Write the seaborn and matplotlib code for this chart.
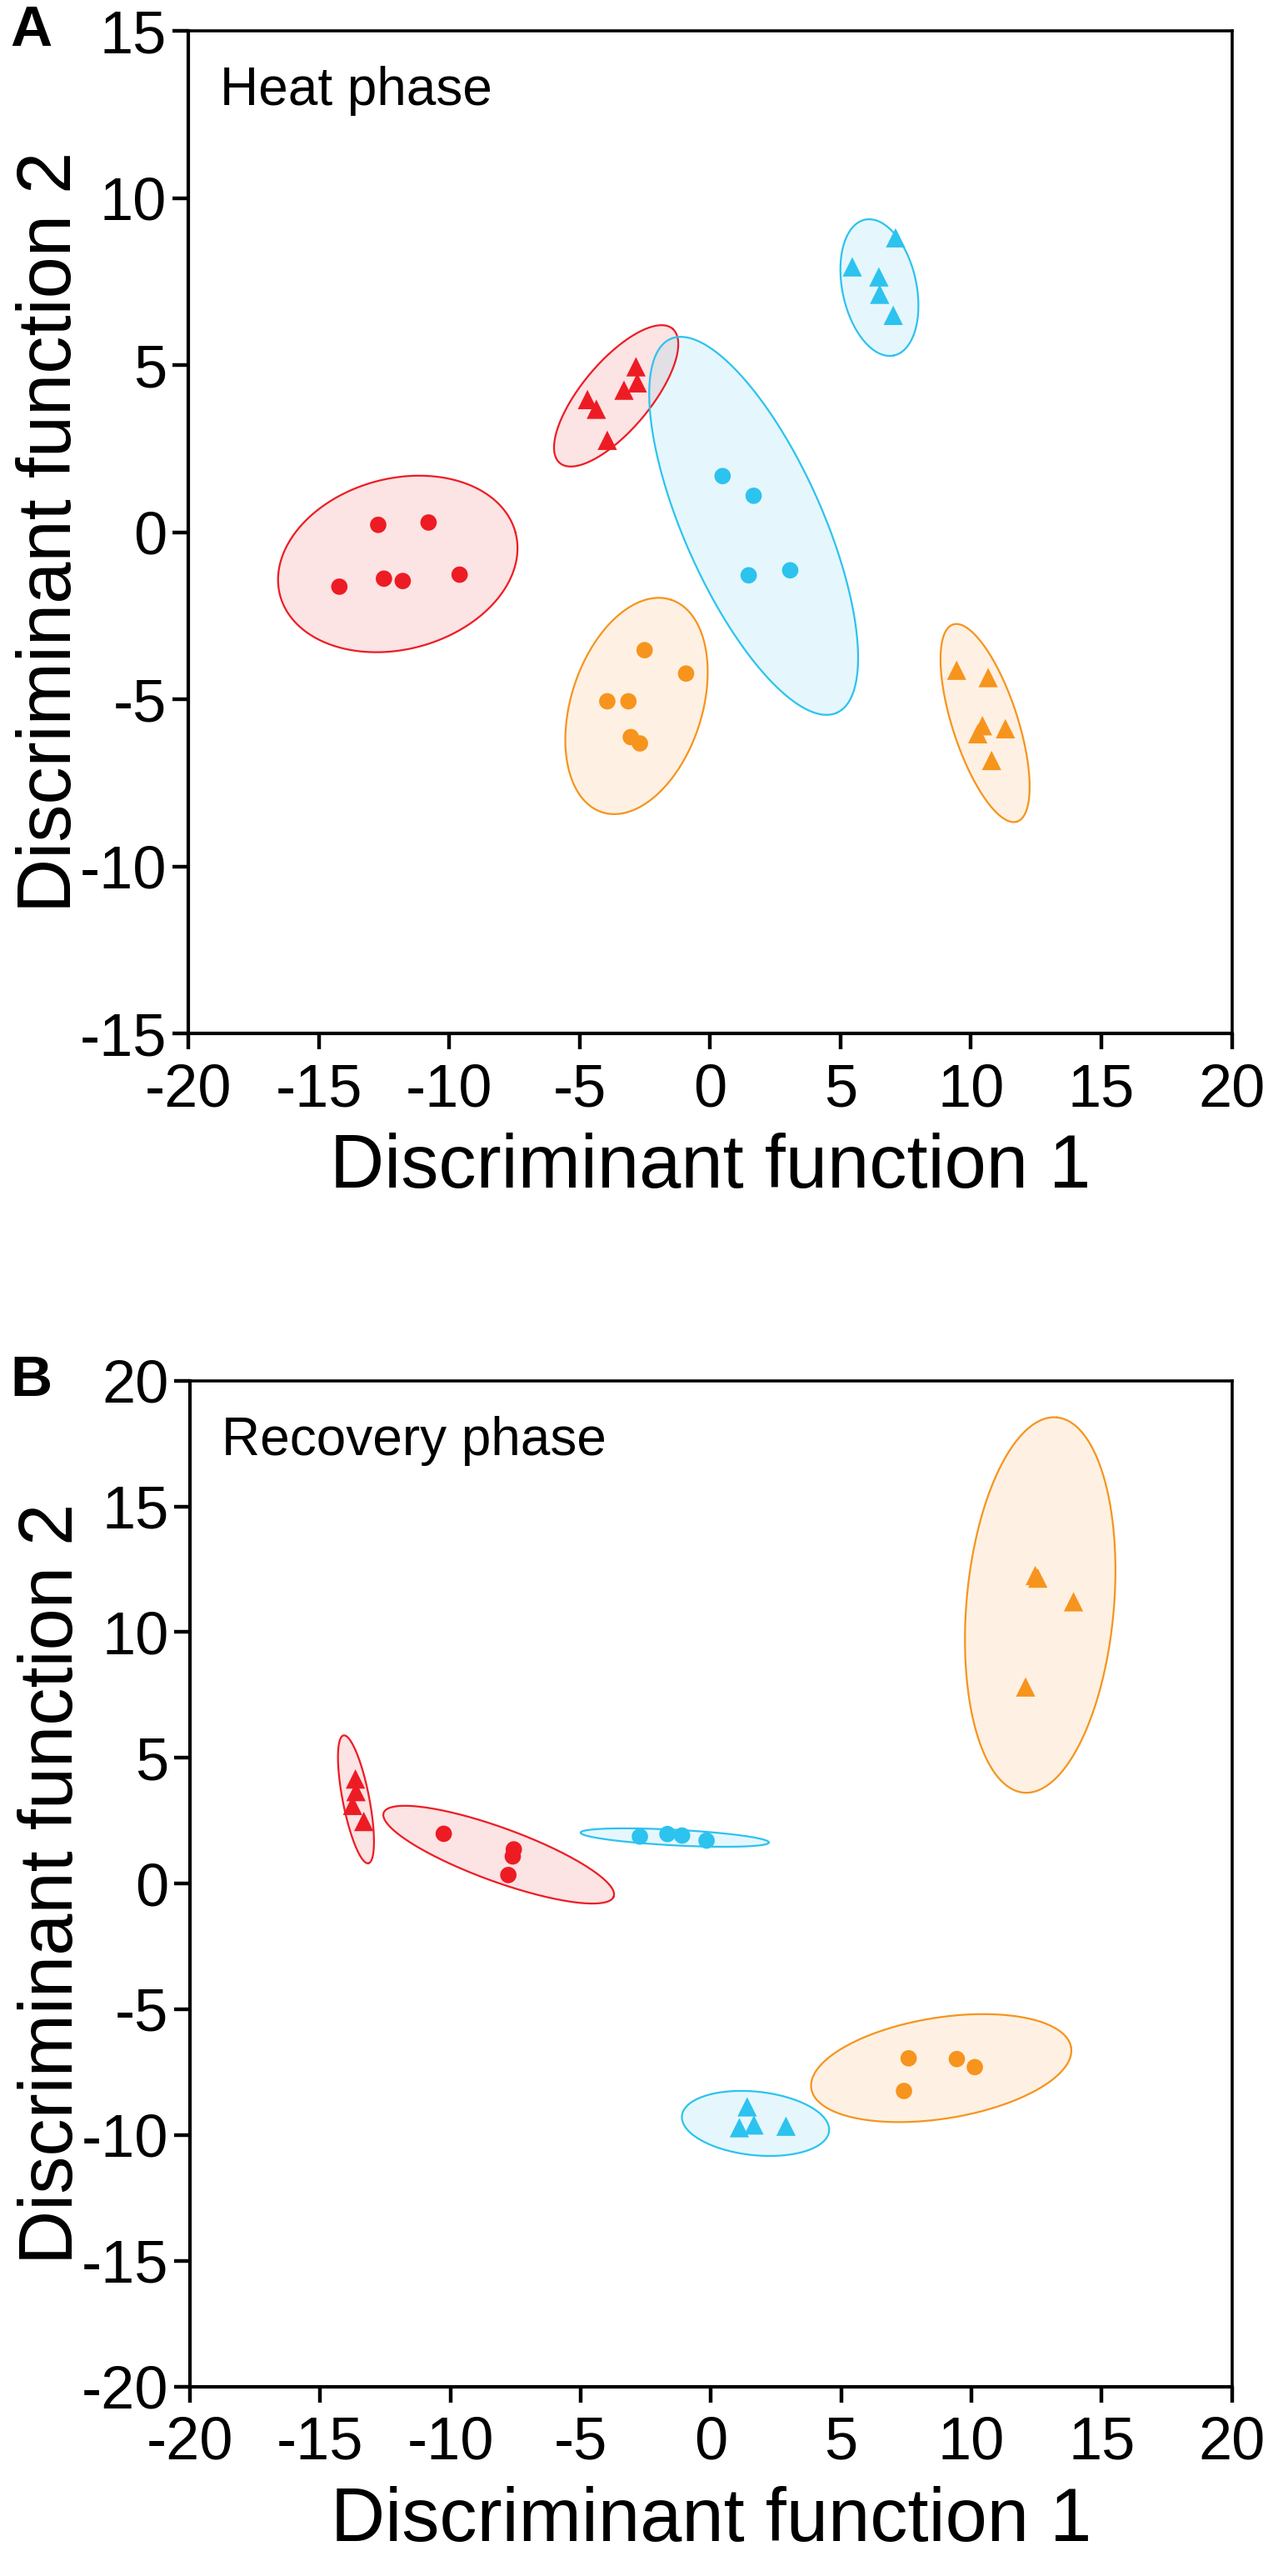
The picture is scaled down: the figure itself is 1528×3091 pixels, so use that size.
import numpy as np
import pandas as pd
import matplotlib
matplotlib.use("Agg")
import matplotlib.pyplot as plt
import seaborn as sns

# ---- heat phase: discriminant scores ----
heat_x = [-14.21, -12.72, -10.79, -12.50, -11.78, -9.60,
          -2.84, -2.79, -3.30, -4.70, -4.36, -3.94,
          0.48, 1.67, 1.48, 3.07,
          7.11, 5.45, 6.47, 6.50, 7.02,
          -3.94, -3.13, -2.51, -0.92, -3.04, -2.69,
          9.45, 10.66, 10.44, 10.26, 11.32, 10.79]
heat_y = [-1.63, 0.22, 0.29, -1.39, -1.46, -1.27,
          4.95, 4.47, 4.25, 3.97, 3.68, 2.75,
          1.68, 1.09, -1.29, -1.14,
          8.81, 7.94, 7.64, 7.12, 6.49,
          -5.06, -5.06, -3.53, -4.23, -6.13, -6.32,
          -4.13, -4.35, -5.79, -6.03, -5.88, -6.83]
heat_group = ["G1"] * 12 + ["G2"] * 9 + ["G3"] * 12
heat_shape = (["circle"] * 6 + ["triangle"] * 6 + ["circle"] * 4 + ["triangle"] * 5
              + ["circle"] * 6 + ["triangle"] * 6)

# ---- recovery phase: discriminant scores ----
rec_x = [-10.26, -7.57, -7.61, -7.78,
         -13.65, -13.63, -13.76, -13.33,
         -2.73, -1.67, -1.11, -0.17,
         1.39, 1.09, 1.65, 2.88,
         7.59, 9.44, 10.13, 7.41,
         12.45, 13.92, 12.08, 12.55]
rec_y = [1.98, 1.36, 1.08, 0.34,
         4.16, 3.66, 3.11, 2.47,
         1.87, 1.97, 1.91, 1.71,
         -8.88, -9.71, -9.60, -9.65,
         -6.95, -6.98, -7.30, -8.25,
         12.25, 11.21, 7.82, 12.15]
rec_group = ["G1"] * 8 + ["G2"] * 8 + ["G3"] * 8
rec_shape = (["circle"] * 4 + ["triangle"] * 4) * 3

# ---- confidence ellipses (centre, semi axes in x units, on-screen angle) ----
heat_ell_group = ["G1", "G1", "G2", "G2", "G3", "G3"]
heat_ell_cx = [-11.97, -3.60, 1.67, 6.49, -2.82, 10.54]
heat_ell_cy = [-0.95, 4.08, 0.19, 7.32, -5.20, -5.71]
heat_ell_a = [4.67, 3.36, 7.84, 2.66, 4.28, 3.97]
heat_ell_b = [3.27, 1.31, 2.65, 1.42, 2.51, 1.25]
heat_ell_ang = [15, 50, -66, -78, 72, -72]

rec_ell_group = ["G1", "G1", "G2", "G2", "G3", "G3"]
rec_ell_cx = [-8.15, -13.63, -1.39, 1.71, 8.84, 12.64]
rec_ell_cy = [1.15, 3.35, 1.83, -9.54, -7.34, 11.08]
rec_ell_a = [4.70, 2.50, 3.62, 2.84, 5.05, 7.23]
rec_ell_b = [1.03, 0.51, 0.30, 1.22, 1.94, 2.83]
rec_ell_ang = [-20, -79, -3, -6, 9, 85]

colors = {"G1": "#ED1C24", "G2": "#2CC3EF", "G3": "#F7941D"}

sns.set_style("ticks")
plt.rcParams["font.family"] = ["Liberation Sans", "DejaVu Sans"]
plt.rcParams["axes.unicode_minus"] = False
plt.rcParams["text.color"] = "black"
plt.rcParams["axes.labelcolor"] = "black"
plt.rcParams["xtick.color"] = "black"
plt.rcParams["ytick.color"] = "black"

fig = plt.figure(figsize=(15.28, 30.91), dpi=100)


def draw_ellipse(ax, cx, cy, a, b, ang, color):
    # semi axes are given in screen-equivalent x units, so rescale y
    pos = ax.get_position()
    fw, fh = fig.get_size_inches()
    x0, x1 = ax.get_xlim()
    y0, y1 = ax.get_ylim()
    k = (pos.width * fw / (x1 - x0)) / (pos.height * fh / (y1 - y0))
    t = np.linspace(0, 2 * np.pi, 300)
    th = np.deg2rad(ang)
    dx = a * np.cos(t) * np.cos(th) - b * np.sin(t) * np.sin(th)
    dy = (a * np.cos(t) * np.sin(th) + b * np.sin(t) * np.cos(th)) * k
    ax.fill(cx + dx, cy + dy, facecolor=color, alpha=0.12, edgecolor="none", zorder=1)
    ax.plot(cx + dx, cy + dy, color=color, lw=1.6, zorder=2)


def draw_panel(ax, xs, ys, groups, shapes, ell, ylim, yticks, phase, letter):
    ax.set_xlim(-20, 20)
    ax.set_ylim(*ylim)
    for g, cx, cy, a, b, ang in zip(*ell):
        draw_ellipse(ax, cx, cy, a, b, ang, colors[g])

    df = pd.DataFrame({"x": xs, "y": ys, "group": groups, "shape": shapes})
    sns.scatterplot(data=df[df["shape"] == "circle"], x="x", y="y", hue="group",
                    palette=colors, marker="o", s=200, linewidth=0,
                    legend=False, ax=ax, zorder=3)
    sns.scatterplot(data=df[df["shape"] == "triangle"], x="x", y="y", hue="group",
                    palette=colors, marker="^", s=280, linewidth=0,
                    legend=False, ax=ax, zorder=3)

    ax.set_xlim(-20, 20)
    ax.set_ylim(*ylim)
    ax.set_xticks(range(-20, 21, 5))
    ax.set_yticks(yticks)
    ax.tick_params(axis="both", direction="out", length=13.5, width=3.2,
                   labelsize=52, color="black", labelcolor="black")
    ax.tick_params(axis="x", pad=12)
    ax.tick_params(axis="y", pad=5)
    for side in ["left", "bottom"]:
        ax.spines[side].set_linewidth(3.0)
    for side in ["top", "right"]:
        ax.spines[side].set_linewidth(2.6)
    for sp in ax.spines.values():
        sp.set_color("black")
    ax.set_xlabel("Discriminant function 1", fontsize=65, labelpad=12, color="black")
    ax.set_ylabel("Discriminant function 2", fontsize=65, labelpad=-6, color="black")
    ax.text(0.03, 0.94, phase, transform=ax.transAxes, fontsize=46,
            ha="left", va="center", color="black")
    pos = ax.get_position()
    fig.text(0.008, pos.y1, letter, fontsize=50, fontweight="bold",
             ha="left", va="center", color="black")


ax_a = fig.add_axes([0.1479, 0.5988, 0.8198, 0.3892])
draw_panel(ax_a, heat_x, heat_y, heat_group, heat_shape,
           (heat_ell_group, heat_ell_cx, heat_ell_cy, heat_ell_a, heat_ell_b, heat_ell_ang),
           (-15, 15), range(-15, 16, 5), "Heat phase", "A")

ax_b = fig.add_axes([0.1493, 0.0736, 0.8184, 0.3904])
draw_panel(ax_b, rec_x, rec_y, rec_group, rec_shape,
           (rec_ell_group, rec_ell_cx, rec_ell_cy, rec_ell_a, rec_ell_b, rec_ell_ang),
           (-20, 20), range(-20, 21, 5), "Recovery phase", "B")

fig.savefig("out.png", dpi=100, facecolor="white")
